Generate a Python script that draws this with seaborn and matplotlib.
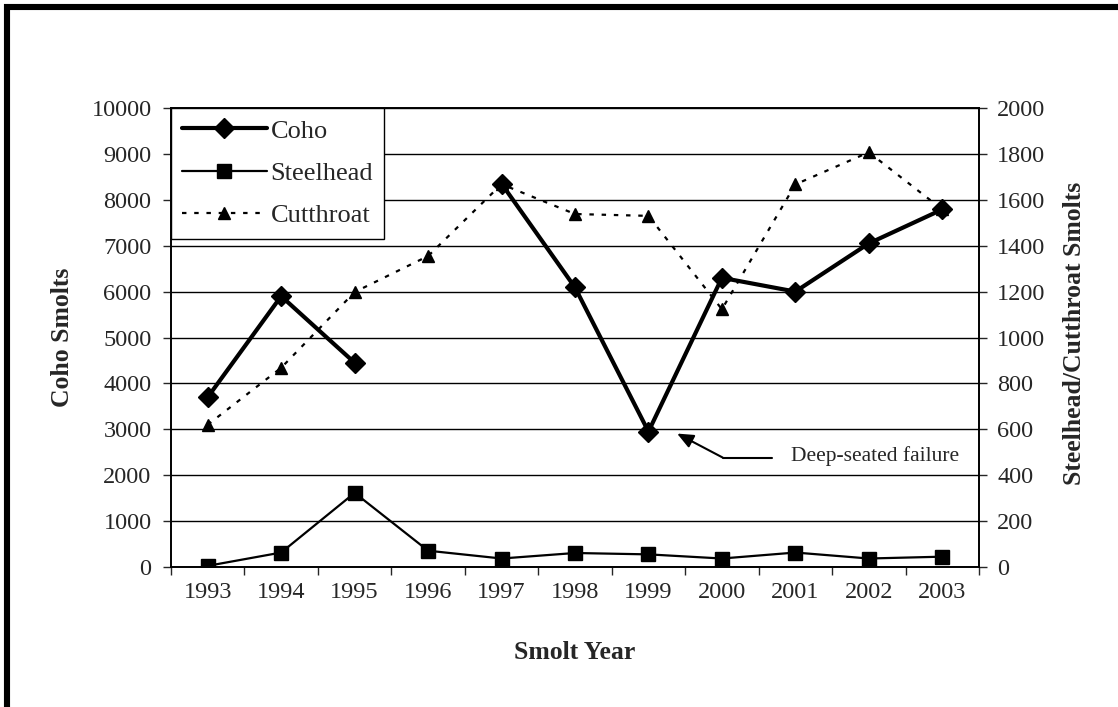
import numpy as np
import pandas as pd
import matplotlib
matplotlib.use("Agg")
import matplotlib.pyplot as plt
import seaborn as sns
from matplotlib.lines import Line2D
from matplotlib.patches import Rectangle

# ---- data -------------------------------------------------------------
years = [1993, 1994, 1995, 1996, 1997, 1998, 1999, 2000, 2001, 2002, 2003]
coho = [3700, 5900, 4450, np.nan, 8350, 6090, 2950, 6300, 6000, 7050, 7790]
steelhead = [5, 63, 323, 71, 37, 61, 55, 37, 63, 37, 45]
cutthroat = [620, 868, 1198, 1355, 1668, 1538, 1530, 1123, 1667, 1807, 1558]
annotation_text = "Deep-seated failure"

df = pd.DataFrame({
    "pos": np.arange(len(years)),
    "year": years,
    "coho": coho,
    "steelhead": steelhead,
    "cutthroat": cutthroat,
})
# break the coho line where a year is missing
df["segment"] = df["coho"].isna().cumsum()
coho_df = df.dropna(subset=["coho"])

# ---- style ------------------------------------------------------------
sns.set_style("ticks")
plt.rcParams["font.family"] = ["Liberation Serif", "DejaVu Serif"]
plt.rcParams["axes.edgecolor"] = "black"
plt.rcParams["axes.linewidth"] = 1.2

fig = plt.figure(figsize=(11.18, 7.07), dpi=100)
fig.subplots_adjust(left=171 / 1118, right=979 / 1118,
                    top=1 - 108 / 707, bottom=1 - 567 / 707)
ax = fig.add_subplot(111)
ax2 = ax.twinx()

# coho on the left axis, drawn above the right-axis series
ax.set_zorder(ax2.get_zorder() + 1)
ax.patch.set_visible(False)

sns.lineplot(data=coho_df, x="pos", y="coho", units="segment", estimator=None,
             ax=ax, color="black", linewidth=3.0, marker="D", markersize=10.5,
             markeredgecolor="black", markeredgewidth=1, legend=False)

sns.lineplot(data=df, x="pos", y="steelhead", ax=ax2, color="black",
             linewidth=1.6, marker="s", markersize=9.5,
             markeredgecolor="black", markeredgewidth=1, legend=False)

sns.lineplot(data=df, x="pos", y="cutthroat", ax=ax2, color="black",
             linewidth=1.6, linestyle=(0, (2, 3.5)), marker="^", markersize=9,
             markeredgecolor="black", markeredgewidth=1, legend=False)

# ---- axes -------------------------------------------------------------
tick_size = 17.5
ax.set_xlim(-0.5, len(years) - 0.5)
ax.set_ylim(0, 10000)
ax2.set_ylim(0, 2000)

ax.set_xticks(np.arange(-0.5, len(years), 1.0))
ax.set_xticklabels([])
ax.set_xticks(df["pos"], minor=True)
ax.set_xticklabels([str(y) for y in years], minor=True)
ax.tick_params(axis="x", which="major", direction="out", length=6, width=1)
ax.tick_params(axis="x", which="minor", length=0, pad=11,
               labelsize=tick_size)

ax.set_yticks(range(0, 10001, 1000))
ax.tick_params(axis="y", direction="out", length=6, width=1, pad=8,
               labelsize=tick_size)
ax2.set_yticks(range(0, 2001, 200))
ax2.tick_params(axis="y", direction="out", length=6, width=1, pad=7,
                labelsize=tick_size)

ax.grid(False)
ax2.grid(axis="y", color="black", linewidth=1)
ax2.set_axisbelow(True)

label_size = 18.5
ax.set_ylabel("Coho Smolts", fontsize=label_size, fontweight="bold",
              va="center")
ax.yaxis.set_label_coords(-0.1343, 0.5)
ax2.set_ylabel("Steelhead/Cutthroat Smolts", fontsize=label_size,
               fontweight="bold", va="center", rotation=90)
ax2.yaxis.set_label_coords(1.1176, 0.51)
ax.set_xlabel("Smolt Year", fontsize=label_size, fontweight="bold",
              va="center")
ax.xaxis.set_label_coords(0.4994, -0.187)

# ---- annotation -------------------------------------------------------
ax.plot([7.01, 7.68], [2385, 2385], color="black", linewidth=1.5)
ax.annotate("", xy=(6.39, 2907), xytext=(7.01, 2385),
            arrowprops=dict(arrowstyle="-|>,head_length=0.65,head_width=0.28",
                            color="black", lw=1.5,
                            mutation_scale=15, shrinkA=0, shrinkB=0))
ax.text(7.94, 2420, annotation_text, fontsize=15.5, va="center", ha="left")

# ---- legend -----------------------------------------------------------
handles = [
    Line2D([], [], color="black", lw=3.0, marker="D", markersize=10.5,
           markeredgecolor="black"),
    Line2D([], [], color="black", lw=1.6, marker="s", markersize=9.5,
           markeredgecolor="black"),
    Line2D([], [], color="black", lw=1.6, linestyle=(0, (2, 3.5)),
           marker="^", markersize=9, markeredgecolor="black"),
]
leg = ax.legend(handles, ["Coho", "Steelhead", "Cutthroat"],
                loc="upper left", bbox_to_anchor=(0, 1), borderaxespad=0,
                fontsize=19, frameon=True, fancybox=False, framealpha=1,
                edgecolor="black", handlelength=3.2, handletextpad=0.15,
                borderpad=0.42, labelspacing=0.72)
leg.get_frame().set_linewidth(1)

# ---- outer frame ------------------------------------------------------
W, H = 1118, 707
fig.patches.append(Rectangle((7 / W, 1 - 709 / H), (1120 - 7) / W,
                             (709 - 7) / H, transform=fig.transFigure,
                             fill=False, edgecolor="black", linewidth=4.4,
                             zorder=10))

fig.savefig("out.png", dpi=100, facecolor="white")
